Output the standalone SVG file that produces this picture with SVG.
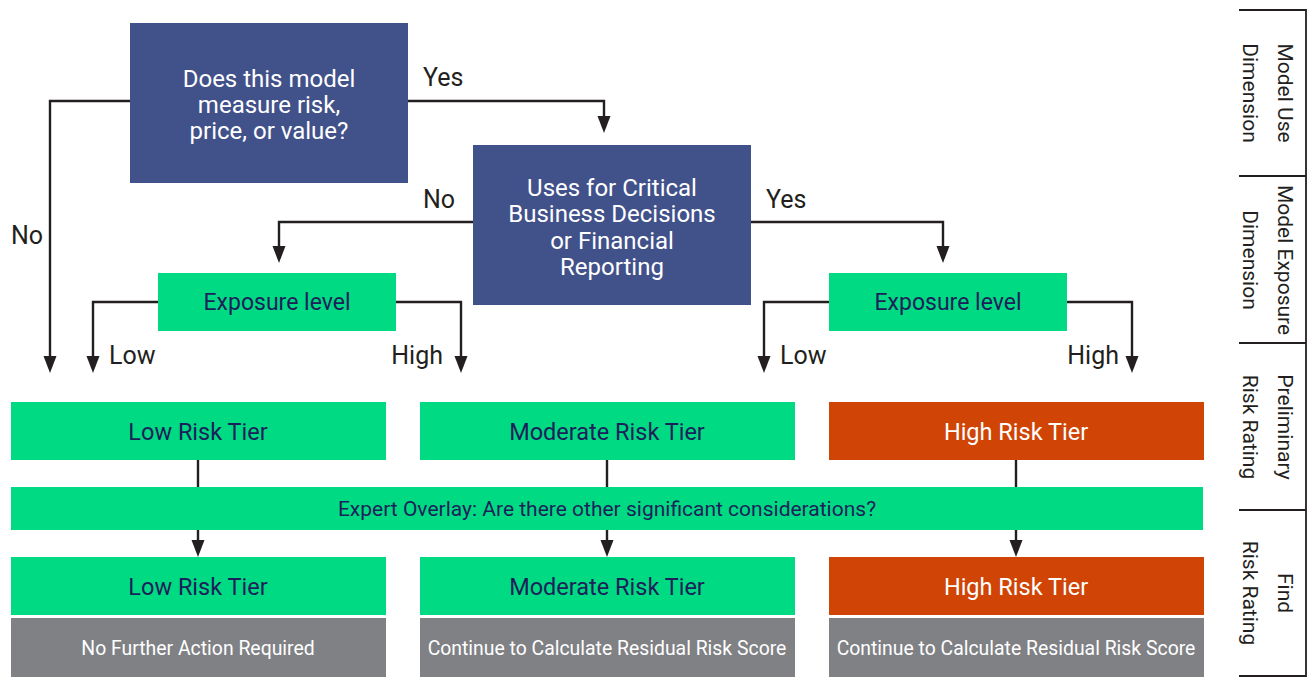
<svg xmlns="http://www.w3.org/2000/svg" width="1309" height="677" viewBox="0 0 1309 677">
<defs>
<style>
text{font-family:Roboto,"Liberation Sans",sans-serif;}
.navy{fill:#41518A;}
.green{fill:#00DA82;}
.orange{fill:#D04406;}
.gray{fill:#808185;}
.wt{fill:#FFFFFF;font-size:24px;text-anchor:middle;}
.gt{fill:#1C1F5A;font-size:23.5px;text-anchor:middle;}
.et{fill:#1C1F5A;font-size:23px;text-anchor:middle;}
.ht{fill:#FFFFFF;font-size:23.5px;text-anchor:middle;}
.st{fill:#FFFFFF;font-size:19.4px;text-anchor:middle;}
.lbl{fill:#231F20;font-size:25px;}
.side{fill:#231F20;font-size:21px;text-anchor:middle;}
.ln{fill:none;stroke:#231F20;stroke-width:2.4;}
.ah{fill:#231F20;}
</style>
<path id="arrow" class="ah" d="M-6.5,-17 L6.5,-17 L0,0 Z"/>
</defs>

<g id="connectors">
<path class="ln" d="M130,101 H50 V358"/>
<use href="#arrow" x="50" y="373"/>
<path class="ln" d="M408,101 H604 V118"/>
<use href="#arrow" x="604" y="133"/>
<path class="ln" d="M473,222 H279 V248"/>
<use href="#arrow" x="279" y="263"/>
<path class="ln" d="M750,222 H943 V248"/>
<use href="#arrow" x="943" y="263"/>
<path class="ln" d="M158,302 H93 V358"/>
<use href="#arrow" x="93" y="373"/>
<path class="ln" d="M396,302 H461 V358"/>
<use href="#arrow" x="461" y="373"/>
<path class="ln" d="M829,302 H764 V358"/>
<use href="#arrow" x="764" y="373"/>
<path class="ln" d="M1067,302 H1132 V358"/>
<use href="#arrow" x="1132" y="373"/>
<path class="ln" d="M198,460 V487 M607,460 V487 M1016,460 V487"/>
<path class="ln" d="M198,530 V542 M607,530 V542 M1016,530 V542"/>
<use href="#arrow" x="198" y="557"/>
<use href="#arrow" x="607" y="557"/>
<use href="#arrow" x="1016" y="557"/>
<text class="lbl" x="423" y="86">Yes</text>
<text class="lbl" x="423" y="208">No</text>
<text class="lbl" x="766" y="208">Yes</text>
<text class="lbl" x="11" y="244">No</text>
<text class="lbl" x="109" y="364">Low</text>
<text class="lbl" x="443" y="364" text-anchor="end">High</text>
<text class="lbl" x="780" y="364">Low</text>
<text class="lbl" x="1119" y="364" text-anchor="end">High</text>
</g>

<g id="q1">
<rect class="navy" x="130" y="23" width="278" height="160"/>
<text class="wt" x="269" y="86.5">Does this model</text>
<text class="wt" x="269" y="112.5">measure risk,</text>
<text class="wt" x="269" y="138.5">price, or value?</text>
</g>

<g id="q2">
<rect class="navy" x="473" y="145" width="278" height="160"/>
<text class="wt" x="612" y="195.5">Uses for Critical</text>
<text class="wt" x="612" y="221.5">Business Decisions</text>
<text class="wt" x="612" y="248.5">or Financial</text>
<text class="wt" x="612" y="274.5">Reporting</text>
</g>

<g id="exposure-left">
<rect class="green" x="158" y="273" width="238" height="58"/>
<text class="et" x="277" y="310">Exposure level</text>
</g>

<g id="exposure-right">
<rect class="green" x="829" y="273" width="238" height="58"/>
<text class="et" x="948" y="310">Exposure level</text>
</g>

<g id="prelim-low">
<rect class="green" x="11" y="402" width="375" height="58"/>
<text class="gt" x="198" y="440">Low Risk Tier</text>
</g>
<g id="prelim-moderate">
<rect class="green" x="420" y="402" width="375" height="58"/>
<text class="gt" x="607" y="440">Moderate Risk Tier</text>
</g>
<g id="prelim-high">
<rect class="orange" x="829" y="402" width="375" height="58"/>
<text class="ht" x="1016" y="440">High Risk Tier</text>
</g>

<g id="expert-overlay">
<rect class="green" x="11" y="487" width="1192" height="43"/>
<text class="gt" x="607" y="515.5" style="font-size:21px">Expert Overlay: Are there other significant considerations?</text>
</g>

<g id="final-low">
<rect class="green" x="11" y="557" width="375" height="58"/>
<text class="gt" x="198" y="595">Low Risk Tier</text>
</g>
<g id="final-moderate">
<rect class="green" x="420" y="557" width="375" height="58"/>
<text class="gt" x="607" y="595">Moderate Risk Tier</text>
</g>
<g id="final-high">
<rect class="orange" x="829" y="557" width="375" height="58"/>
<text class="ht" x="1016" y="595">High Risk Tier</text>
</g>

<g id="action-low">
<rect class="gray" x="11" y="618" width="375" height="59"/>
<text class="st" x="198" y="655">No Further Action Required</text>
</g>
<g id="action-moderate">
<rect class="gray" x="420" y="618" width="375" height="59"/>
<text class="st" x="607" y="655">Continue to Calculate Residual Risk Score</text>
</g>
<g id="action-high">
<rect class="gray" x="829" y="618" width="375" height="59"/>
<text class="st" x="1016" y="655">Continue to Calculate Residual Risk Score</text>
</g>

<g id="side-panel">
<path class="ln" d="M1239,10 H1306 V676 H1239 M1239,176 H1306 M1239,343 H1306 M1239,510 H1306" style="stroke-width:1.8"/>
<text class="side" transform="translate(1278,93) rotate(90)">Model Use</text>
<text class="side" transform="translate(1243,93) rotate(90)">Dimension</text>
<text class="side" transform="translate(1278,260) rotate(90)">Model Exposure</text>
<text class="side" transform="translate(1243,260) rotate(90)">Dimension</text>
<text class="side" transform="translate(1278,427) rotate(90)">Preliminary</text>
<text class="side" transform="translate(1243,427) rotate(90)">Risk Rating</text>
<text class="side" transform="translate(1278,593) rotate(90)">Find</text>
<text class="side" transform="translate(1243,593) rotate(90)">Risk Rating</text>
</g>
</svg>
